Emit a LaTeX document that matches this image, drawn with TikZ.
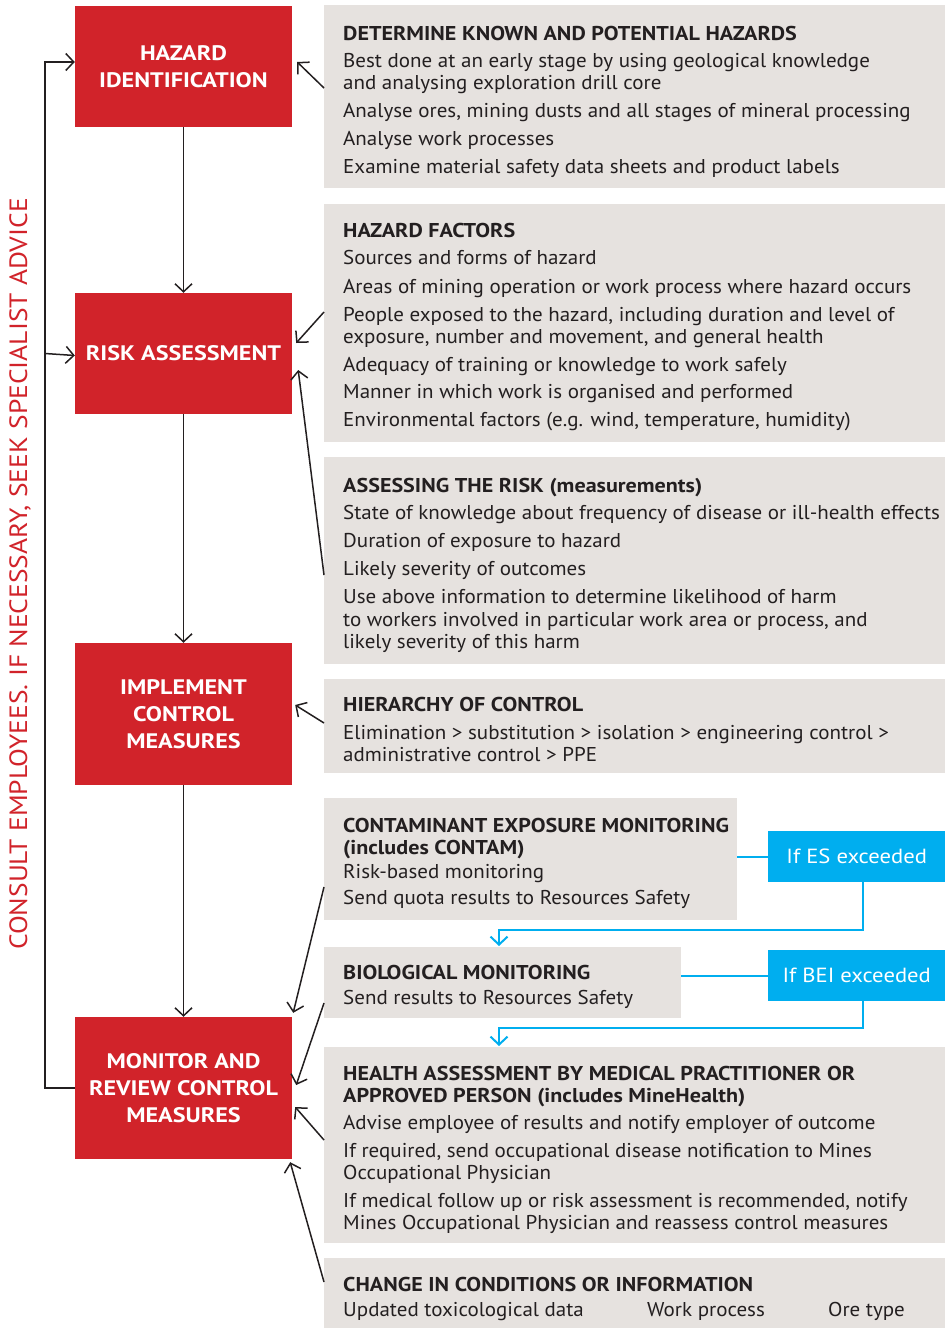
\documentclass[tikz,border=0pt]{standalone}
\usepackage{fontspec}
\setmainfont{PT Sans}[FakeStretch=1.05]
\newfontfamily\hfont{PT Sans}[FakeStretch=1.105]
\newfontfamily\rfont{PT Sans}[FakeStretch=1.15]
\newfontfamily\vfont{PT Sans}[FakeStretch=1.1]
\usetikzlibrary{arrows.meta}
\definecolor{redbox}{HTML}{D1232A}
\definecolor{greybg}{HTML}{E6E2DF}
\definecolor{bluebg}{HTML}{00AEEF}
\definecolor{ink}{HTML}{231F20}
\tikzset{
  rbox/.style={fill=redbox, text=white, font=\rfont\bfseries\fontsize{21}{27}\selectfont, align=center, minimum width=217pt, inner sep=0pt},
  gbox/.style={fill=greybg, anchor=north west, inner sep=0pt},
  bbox/.style={fill=bluebg, text=white, font=\hfont\fontsize{20.5}{22}\selectfont, anchor=north west, minimum width=177pt, minimum height=51pt, inner sep=0pt},
  head/.style={anchor=base west, font=\hfont\bfseries\fontsize{20}{22}\selectfont, text=ink, inner sep=0pt},
  body/.style={anchor=base west, font=\fontsize{20}{22}\selectfont, text=ink, inner sep=0pt},
  arr/.style={draw=ink, line width=1.5pt, -{Straight Barb[length=8pt,width=17pt,line width=1.5pt]}},
  bline/.style={draw=bluebg, line width=2pt},
  barr/.style={draw=bluebg, line width=2pt, -{Straight Barb[length=8pt,width=17pt,line width=2pt]}},
}
\begin{document}
\begin{tikzpicture}[x=1pt,y=-1pt]
\useasboundingbox (0,0) rectangle (945,1328);
% red boxes
\node[rbox, minimum height=121pt] (haz) at (183.5,66.5) {HAZARD\\IDENTIFICATION};
\node[rbox, minimum height=121pt] (risk) at (183.5,353.5) {RISK ASSESSMENT};
\node[rbox, minimum height=142pt] (impl) at (183.5,714) {IMPLEMENT\\CONTROL\\MEASURES};
\node[rbox, minimum height=142pt] (mon) at (183.5,1088) {MONITOR AND\\REVIEW CONTROL\\MEASURES};
% grey boxes
\node[gbox, minimum width=621pt, minimum height=183pt] (g1) at (324,5) {};
\node[gbox, minimum width=621pt, minimum height=238pt] (g2) at (324,204) {};
\node[gbox, minimum width=621pt, minimum height=207pt] (g3) at (324,457) {};
\node[gbox, minimum width=621pt, minimum height=94pt] (g4) at (324,679) {};
\node[gbox, minimum width=413pt, minimum height=122pt] (g5) at (324,798) {};
\node[gbox, minimum width=357pt, minimum height=71pt] (g6) at (324,947) {};
\node[gbox, minimum width=621pt, minimum height=196pt] (g7) at (324,1047) {};
\node[gbox, minimum width=621pt, minimum height=70pt] (g8) at (324,1258) {};
% blue boxes
\node[bbox] (es) at (768,831) {If ES exceeded};
\node[bbox] (bei) at (768,950) {If BEI exceeded};
% texts box 1
\node[head] (t1h) at (343,40) {DETERMINE KNOWN AND POTENTIAL HAZARDS};
\node[body] (t1a) at (343,67) {Best done at an early stage by using geological knowledge};
\node[body] (t1b) at (343,89) {and analysing exploration drill core};
\node[body] (t1c) at (343,117) {Analyse ores, mining dusts and all stages of mineral processing};
\node[body] (t1d) at (343,145) {Analyse work processes};
\node[body] (t1e) at (343,173) {Examine material safety data sheets and product labels};
% box 2
\node[head] (t2h) at (343,237) {HAZARD FACTORS};
\node[body] (t2a) at (343,264) {Sources and forms of hazard};
\node[body] (t2b) at (343,293) {Areas of mining operation or work process where hazard occurs};
\node[body] (t2c) at (343,321) {People exposed to the hazard, including duration and level of};
\node[body] (t2d) at (343,343) {exposure, number and movement, and general health};
\node[body] (t2e) at (343,371) {Adequacy of training or knowledge to work safely};
\node[body] (t2f) at (343,398) {Manner in which work is organised and performed};
\node[body] (t2g) at (343,426) {Environmental factors (e.g. wind, temperature, humidity)};
% box 3
\node[head] (t3h) at (343,492) {ASSESSING THE RISK (measurements)};
\node[body] (t3a) at (343,519) {State of knowledge about frequency of disease or ill-health effects};
\node[body] (t3b) at (343,547) {Duration of exposure to hazard};
\node[body] (t3c) at (343,575) {Likely severity of outcomes};
\node[body] (t3d) at (343,603) {Use above information to determine likelihood of harm};
\node[body] (t3e) at (343,626) {to workers involved in particular work area or process, and};
\node[body] (t3f) at (343,648) {likely severity of this harm};
% box 4
\node[head] (t4h) at (343,711) {HIERARCHY OF CONTROL};
\node[body] (t4a) at (343,739) {Elimination > substitution > isolation > engineering control >};
\node[body] (t4b) at (343,761) {administrative control > PPE};
% box 5
\node[head] (t5h) at (343,832) {CONTAMINANT EXPOSURE MONITORING};
\node[head] (t5i) at (343,854) {(includes CONTAM)};
\node[body] (t5a) at (343,878) {Risk-based monitoring};
\node[body] (t5b) at (343,904) {Send quota results to Resources Safety};
% box 6
\node[head] (t6h) at (343,979) {BIOLOGICAL MONITORING};
\node[body] (t6a) at (343,1004) {Send results to Resources Safety};
% box 7
\node[head] (t7h) at (343,1080) {HEALTH ASSESSMENT BY MEDICAL PRACTITIONER OR};
\node[head] (t7i) at (343,1102) {APPROVED PERSON (includes MineHealth)};
\node[body] (t7a) at (343,1129) {Advise employee of results and notify employer of outcome};
\node[body] (t7b) at (343,1157) {If required, send occupational disease notification to Mines};
\node[body] (t7c) at (343,1179) {Occupational Physician};
\node[body] (t7d) at (343,1207) {If medical follow up or risk assessment is recommended, notify};
\node[body] (t7e) at (343,1229) {Mines Occupational Physician and reassess control measures};
% box 8
\node[head] (t8h) at (343,1291) {CHANGE IN CONDITIONS OR INFORMATION};
\node[body] (t8a) at (343,1316) {Updated toxicological data};
\node[body] (t8b) at (647,1316) {Work process};
\node[body] (t8c) at (828,1316) {Ore type};
% vertical text
\node[rotate=90, text=redbox, font=\vfont\fontsize{25}{25}\selectfont, inner sep=0pt] (consult) at (20,574) {CONSULT EMPLOYEES. IF NECESSARY, SEEK SPECIALIST ADVICE};
% main flow arrows
\draw[arr] (haz.south) -- (risk.north);
\draw[arr] (risk.south) -- (impl.north);
\draw[arr] (impl.south) -- (mon.north);
% feedback loop
\coordinate (lx) at (45,0);
\draw[arr] (mon.west) -- (lx |- mon.west) |- ([yshift=4.5pt]haz.west);
\draw[arr] (lx |- risk.west) -- ([yshift=-2pt]risk.west);
% info arrows
\draw[arr] ([yshift=-83pt]g1.north west) -- ([xshift=5pt,yshift=4.5pt]haz.east);
\draw[arr] ([yshift=-108pt]g2.north west) -- ([xshift=4pt,yshift=10.5pt]risk.east);
\draw[arr] ([yshift=-118pt]g3.north west) -- ([xshift=6pt,yshift=-16.5pt]risk.east);
\draw[arr] ([yshift=-44pt]g4.north west) -- ([xshift=3pt,yshift=9pt]impl.east);
\draw[arr] ([yshift=-89pt]g5.north west) -- ([xshift=1pt,yshift=4pt]mon.north east);
\draw[arr] ([yshift=-56pt]g6.north west) -- ([xshift=4pt,yshift=3pt]mon.east);
\draw[arr] ([yshift=-93pt]g7.north west) -- ([xshift=3pt,yshift=-19pt]mon.east);
\draw[arr] ([yshift=-24pt]g8.north west) -- ([xshift=-2pt,yshift=-3pt]mon.south east);
% blue connectors
\draw[bline] (g5.east |- es.west) -- (es.west);
\draw[bline] (g6.east |- bei.west) -- (bei.west);
\coordinate (bx) at (863,0);
\coordinate (ax) at (499,0);
\draw[barr] (bx |- es.south) -- (863,930) -| ([yshift=1pt]ax |- g6.north);
\draw[barr] (bx |- bei.south) -- (863,1028) -| ([yshift=1pt]ax |- g7.north);
\end{tikzpicture}
\end{document}
